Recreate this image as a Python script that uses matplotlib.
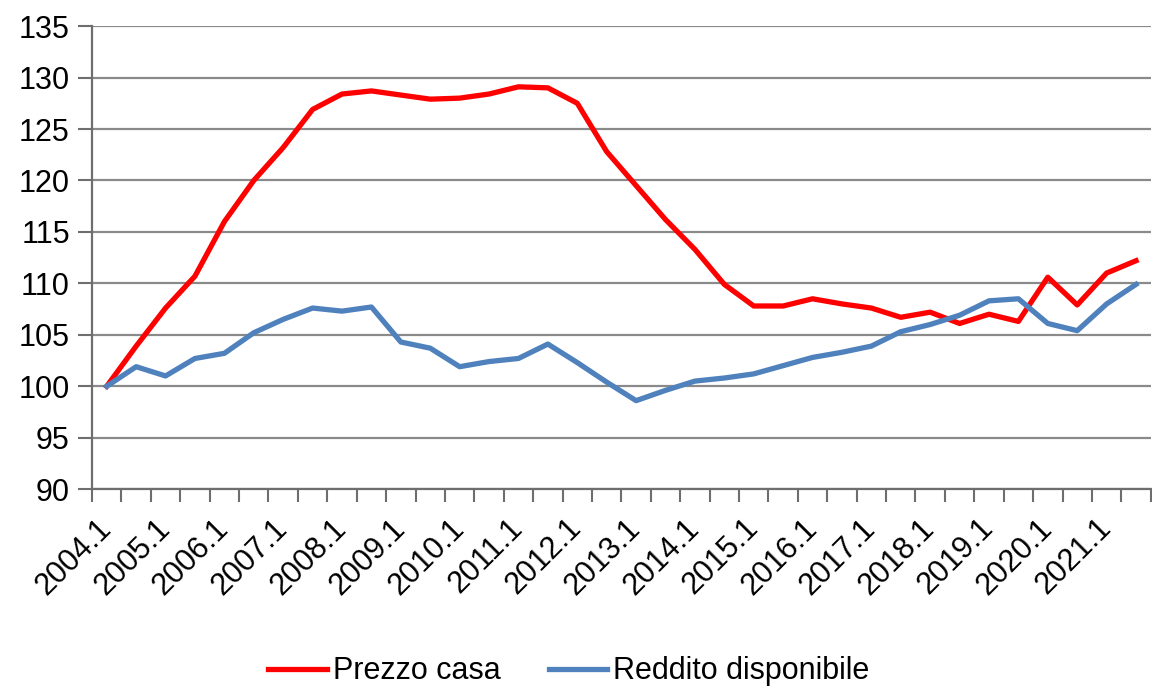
import numpy as np
import matplotlib
matplotlib.use('Agg')
import matplotlib.pyplot as plt

plt.rcParams['font.family'] = ['Liberation Sans', 'DejaVu Sans']

# semi-annual periods, 2004.1 .. 2021.2
periods = [f"{y}.{h}" for y in range(2004, 2022) for h in (1, 2)]

prezzo_casa = [100.0, 103.9, 107.6, 110.7, 116.0, 120.0, 123.2, 126.9, 128.4, 128.7,
               128.3, 127.9, 128.0, 128.4, 129.1, 129.0, 127.5, 122.8, 119.5, 116.2,
               113.3, 109.9, 107.8, 107.8, 108.5, 108.0, 107.6, 106.7, 107.2, 106.1,
               107.0, 106.3, 110.6, 107.9, 111.0, 112.2]

reddito_disp = [100.0, 101.9, 101.0, 102.7, 103.2, 105.2, 106.5, 107.6, 107.3, 107.7,
                104.3, 103.7, 101.9, 102.4, 102.7, 104.1, 102.3, 100.4, 98.6, 99.6,
                100.5, 100.8, 101.2, 102.0, 102.8, 103.3, 103.9, 105.3, 106.0, 106.9,
                108.3, 108.5, 106.1, 105.4, 108.0, 109.9]

y_ticks = [90, 95, 100, 105, 110, 115, 120, 125, 130, 135]

fig = plt.figure(figsize=(11.52, 6.87), dpi=100)
ax = fig.add_axes([0.0799, 0.288, 0.919, 0.674])

x = np.arange(len(periods))
ax.plot(x, prezzo_casa, color='#FF0000', lw=3.8, label='Prezzo casa', solid_joinstyle='round')
ax.plot(x, reddito_disp, color='#4F81BD', lw=3.8, label='Reddito disponibile', solid_joinstyle='round')

ax.set_xlim(-0.5, len(periods) - 0.5)
ax.set_ylim(90, 135)
ax.set_yticks(y_ticks)
ax.yaxis.grid(True, color='#8a8a8a', lw=1.6)
ax.set_axisbelow(True)

# labels every year, tick marks between categories
ax.set_xticks(x[::2])
ax.set_xticklabels(periods[::2], rotation=45, ha='right', va='center',
                   rotation_mode='anchor')
ax.set_xticks(np.arange(-0.5, len(periods)), minor=True)
ax.tick_params(axis='x', which='major', length=0, pad=25, labelsize=22)
ax.tick_params(axis='x', which='minor', length=9, width=1.5, color='#6e6e6e', direction='out')
ax.tick_params(axis='y', length=10, width=1.5, color='#6e6e6e', labelsize=22, pad=6)

for s in ('top', 'right'):
    ax.spines[s].set_visible(False)
for s in ('left', 'bottom'):
    ax.spines[s].set_color('#6e6e6e')
    ax.spines[s].set_linewidth(1.6)

fig.legend(loc='center', bbox_to_anchor=(0.494, 0.023), ncol=2, frameon=False,
           fontsize=22, handlelength=1.9, handletextpad=0.2, columnspacing=1.6)

fig.savefig('out.png', dpi=100)
